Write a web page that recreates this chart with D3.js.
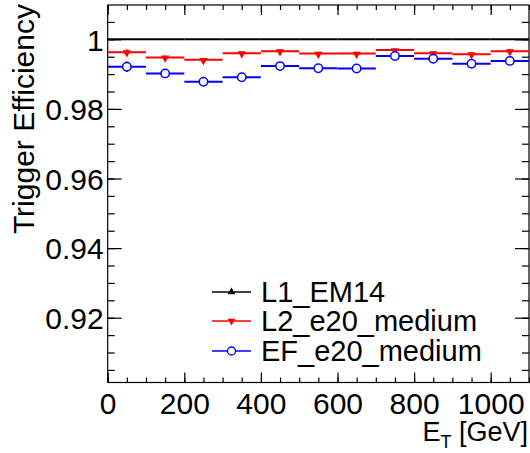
<!DOCTYPE html>
<html>
<head>
<meta charset="utf-8">
<script src="https://cdn.jsdelivr.net/npm/d3@7"></script>
<style>
  body { margin: 0; background: #fff; }
  svg { display: block; }
  svg text { font-family: "Liberation Sans", Arial, sans-serif; fill: #000; }
  .axis path, .axis line { stroke: #000; }
</style>
</head>
<body>
<div id="vis"></div>
<script>
// bins of E_T [GeV]
var binLow = [0, 100, 200, 300, 400, 500, 600, 700, 800, 900, 1000];
var binHigh = [100, 200, 300, 400, 500, 600, 700, 800, 900, 1000, 1100];
var binCenter = [50, 150, 250, 350, 450, 550, 650, 750, 850, 950, 1050];

// efficiencies per trigger
var l1Eff = [1, 1, 1, 1, 1, 1, 1, 1, 1, 1, 1];
var l2Eff = [0.9963, 0.9948, 0.9941, 0.9960, 0.9966, 0.9959, 0.9959, 0.9969, 0.9960, 0.9957, 0.9966];
var l2Err = [0.0008, 0.0005, 0.0005, 0.0005, 0.0004, 0.0005, 0.0005, 0.0004, 0.0005, 0.0005, 0.0005];
var efEff = [0.9921, 0.9902, 0.9878, 0.9891, 0.9923, 0.9917, 0.9916, 0.9952, 0.9944, 0.9930, 0.9938];
var efErr = [0.0015, 0.0008, 0.0008, 0.0008, 0.0008, 0.0008, 0.0008, 0.0006, 0.0007, 0.0008, 0.0008];

var legendNames = ['L1_EM14', 'L2_e20_medium', 'EF_e20_medium'];
var xTicks = [0, 200, 400, 600, 800, 1000];
var yTicks = [0.92, 0.94, 0.96, 0.98, 1];

var width = 530, height = 453;
var margin = {top: 5, right: 1, bottom: 70.5, left: 107.7};
var w = width - margin.left - margin.right;
var h = height - margin.top - margin.bottom;

var svg = d3.select('#vis').append('svg')
    .attr('width', width)
    .attr('height', height);

var g = svg.append('g')
    .attr('transform', 'translate(' + margin.left + ',' + margin.top + ')');

var x = d3.scaleLinear().domain([0, 1100]).range([0, w]);
var y = d3.scaleLinear().domain([0.90138, 1.00986]).range([h, 0]);

var minorX = d3.range(0, 1101, 50);
var minorY = d3.range(0.905, 1.0099, 0.005);

// minor ticks first, then major ones with labels
g.append('g').attr('class', 'axis')
    .attr('transform', 'translate(0,' + h + ')')
    .call(d3.axisBottom(x).tickValues(minorX).tickSize(-5).tickFormat(''));
g.append('g').attr('class', 'axis')
    .call(d3.axisTop(x).tickValues(minorX).tickSize(-5).tickFormat(''));
g.append('g').attr('class', 'axis')
    .call(d3.axisLeft(y).tickValues(minorY).tickSize(-7).tickFormat(''));
g.append('g').attr('class', 'axis')
    .attr('transform', 'translate(' + w + ',0)')
    .call(d3.axisRight(y).tickValues(minorY).tickSize(-7).tickFormat(''));

var xAx = g.append('g').attr('class', 'axis')
    .attr('transform', 'translate(0,' + h + ')')
    .call(d3.axisBottom(x).tickValues(xTicks).tickSize(-10).tickPadding(10.5).tickFormat(d3.format('d')));
g.append('g').attr('class', 'axis')
    .call(d3.axisTop(x).tickValues(xTicks).tickSize(-10).tickFormat(''));
var yAx = g.append('g').attr('class', 'axis')
    .call(d3.axisLeft(y).tickValues(yTicks).tickSize(-14).tickPadding(4).tickFormat(function(d) { return d === 1 ? '1' : d3.format('.2f')(d); }));
g.append('g').attr('class', 'axis')
    .attr('transform', 'translate(' + w + ',0)')
    .call(d3.axisRight(y).tickValues(yTicks).tickSize(-14).tickFormat(''));

g.selectAll('.axis path').remove();
g.selectAll('.axis line').attr('stroke-width', 1.2);
g.selectAll('.axis').attr('font-family', null);

xAx.selectAll('text').style('font-size', '30px').attr('dy', '0.71em');
yAx.selectAll('text').style('font-size', '30px').attr('dy', '0.36em');

// frame
g.append('rect')
    .attr('width', w).attr('height', h)
    .attr('fill', 'none').attr('stroke', '#000').attr('stroke-width', 1.2);

// series
function drawSeries(vals, errs, colour, marker) {
    var s = g.append('g');
    s.selectAll('.hbar').data(vals).enter().append('line')
        .attr('x1', function(d, i) { return x(binLow[i]); })
        .attr('x2', function(d, i) { return x(binHigh[i]); })
        .attr('y1', function(d) { return y(d); })
        .attr('y2', function(d) { return y(d); })
        .attr('stroke', colour).attr('stroke-width', 2);
    if (!errs) return;
    s.selectAll('.vbar').data(vals).enter().append('line')
        .attr('x1', function(d, i) { return x(binCenter[i]); })
        .attr('x2', function(d, i) { return x(binCenter[i]); })
        .attr('y1', function(d, i) { return y(d - errs[i]); })
        .attr('y2', function(d, i) { return y(d + errs[i]); })
        .attr('stroke', colour).attr('stroke-width', 2);
    if (marker === 'circle') {
        s.selectAll('circle').data(vals).enter().append('circle')
            .attr('cx', function(d, i) { return x(binCenter[i]); })
            .attr('cy', function(d) { return y(d); })
            .attr('r', 4.2)
            .attr('fill', '#fff').attr('stroke', colour).attr('stroke-width', 1.5);
    } else {
        var tri = d3.symbol().type(d3.symbolTriangle).size(30);
        s.selectAll('path').data(vals).enter().append('path')
            .attr('d', tri)
            .attr('transform', function(d, i) { return 'translate(' + x(binCenter[i]) + ',' + (y(d) + 0.5) + ') rotate(180)'; })
            .attr('fill', colour);
    }
}

drawSeries(l1Eff, null, '#000', null);
drawSeries(l2Eff, l2Err, '#ff0000', 'tri');
drawSeries(efEff, efErr, '#0000ff', 'circle');

// legend
var legColours = ['#000', '#ff0000', '#0000ff'];
var legY = [292, 321, 351];
var leg = svg.append('g');
legendNames.forEach(function(name, i) {
    var row = leg.append('g').attr('transform', 'translate(0,' + legY[i] + ')');
    row.append('line').attr('x1', 212).attr('x2', 251).attr('y1', 0).attr('y2', 0)
        .attr('stroke', legColours[i]).attr('stroke-width', 1.5);
    if (i === 2) {
        row.append('circle').attr('cx', 231.5).attr('cy', 0).attr('r', 4)
            .attr('fill', '#fff').attr('stroke', legColours[i]).attr('stroke-width', 1.3);
    } else {
        row.append('path').attr('d', d3.symbol().type(d3.symbolTriangle).size(26))
            .attr('transform', 'translate(231.5,0)' + (i === 1 ? ' rotate(180)' : ''))
            .attr('fill', legColours[i]);
    }
    row.append('text').attr('x', 261).attr('y', 10)
        .style('font-size', '29px').text(name);
});

// axis titles
var xt = svg.append('text')
    .attr('x', 528).attr('y', 441)
    .attr('text-anchor', 'end')
    .style('font-size', '27px');
xt.append('tspan').text('E');
xt.append('tspan').attr('dy', 7).style('font-size', '18px').text('T');
xt.append('tspan').attr('dy', -7).text(' [GeV]');

svg.append('text')
    .attr('transform', 'translate(34,4) rotate(-90)')
    .attr('text-anchor', 'end')
    .style('font-size', '30px')
    .text('Trigger Efficiency');
</script>
</body>
</html>
